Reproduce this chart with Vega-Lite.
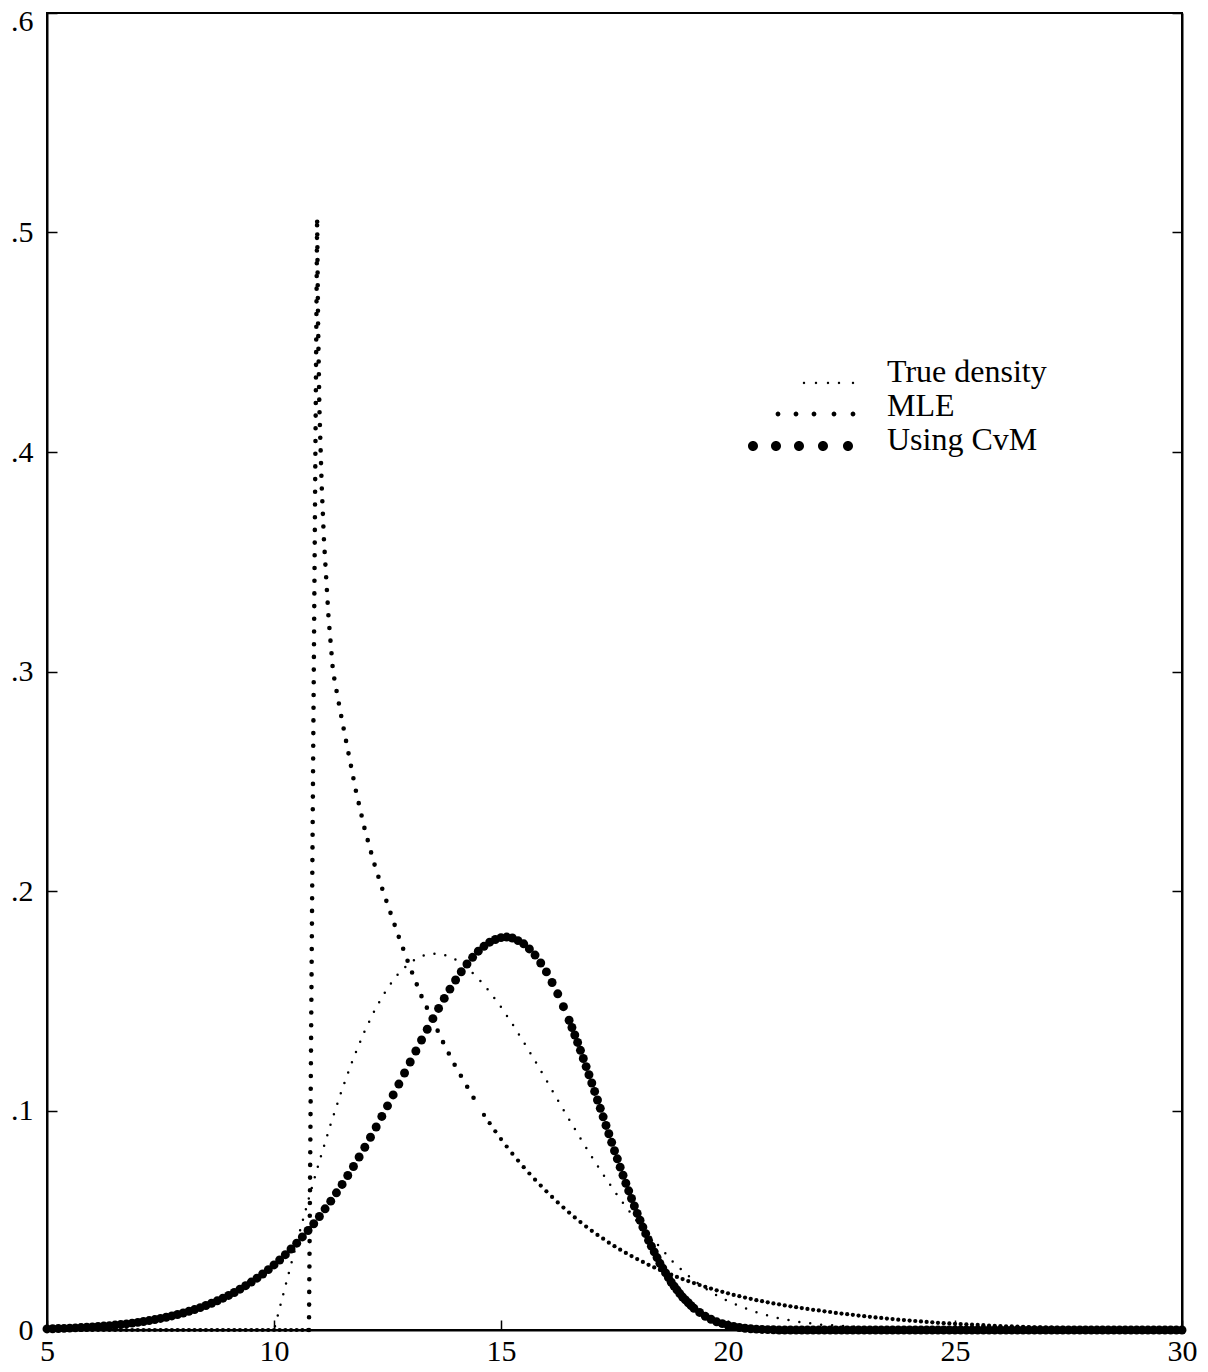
{
"$schema": "https://vega.github.io/schema/vega-lite/v6.json",
"width": 1135, "height": 1317,
"autosize": {"type": "none"},
"padding": {"left": 47, "top": 13, "right": 26, "bottom": 42},
"background": "white",
"config": {
  "view": {"stroke": "black", "strokeWidth": 2},
  "axis": {"domainColor": "black", "domainWidth": 2, "tickColor": "black", "tickWidth": 1.5, "tickSize": -10, "grid": false, "labelFont": "Liberation Serif", "labelFontSize": 30, "labelColor": "black", "title": null}
},
"datasets": {
  "truth": [
    {"x":5,"t":0},{"x":10,"t":0},{"x":10.125,"t":0.01},{"x":10.25,"t":0.01995},{"x":10.375,"t":0.02983},{"x":10.5,"t":0.0396},{"x":10.625,"t":0.04923},{"x":10.75,"t":0.05867},{"x":10.875,"t":0.06789},{"x":11,"t":0.07686},{"x":11.25,"t":0.09394},{"x":11.5,"t":0.10967},{"x":11.75,"t":0.12386},{"x":12,"t":0.13634},{"x":12.25,"t":0.147},{"x":12.5,"t":0.15576},{"x":12.75,"t":0.16257},{"x":13,"t":0.16744},{"x":13.25,"t":0.17041},{"x":13.5,"t":0.17154},{"x":13.75,"t":0.17093},{"x":14,"t":0.16873},{"x":14.25,"t":0.16508},{"x":14.5,"t":0.16015},{"x":14.75,"t":0.15412},{"x":15,"t":0.14715},{"x":15.25,"t":0.13944},{"x":15.5,"t":0.13121},{"x":15.75,"t":0.12258},{"x":16,"t":0.11373},{"x":16.25,"t":0.10481},{"x":16.5,"t":0.09595},{"x":16.75,"t":0.08728},{"x":17,"t":0.07888},{"x":17.25,"t":0.07085},{"x":17.5,"t":0.06324},{"x":17.75,"t":0.0561},{"x":18,"t":0.04947},{"x":18.25,"t":0.04337},{"x":18.5,"t":0.0378},{"x":18.75,"t":0.0318},{"x":19,"t":0.027},{"x":19.25,"t":0.0225},{"x":19.5,"t":0.019},{"x":19.75,"t":0.0158},{"x":20,"t":0.0131},{"x":20.5,"t":0.0089},{"x":21,"t":0.0059},{"x":21.5,"t":0.0039},{"x":22,"t":0.0025},{"x":22.5,"t":0.00193},{"x":23,"t":0.00121},{"x":24,"t":0.00045},{"x":25,"t":0.00011},{"x":26,"t":0},{"x":30,"t":0}
  ],
  "spike": [
    {"x":10.77,"m":0},{"x":10.95,"m":0.507},{"x":10.97,"m":0.46},{"x":11.0,"m":0.42},{"x":11.05,"m":0.385},{"x":11.1,"m":0.36},{"x":11.2,"m":0.325},{"x":11.3,"m":0.3},{"x":11.45,"m":0.283},{"x":11.6,"m":0.267},{"x":11.8,"m":0.246},{"x":12.0,"m":0.228},{"x":12.2,"m":0.213},{"x":12.4,"m":0.2},{"x":12.75,"m":0.179},{"x":13,"m":0.165},{"x":13.25,"m":0.152},{"x":13.5,"m":0.141},{"x":13.75,"m":0.13},{"x":14,"m":0.12},{"x":14.25,"m":0.111},{"x":14.5,"m":0.102}
  ],
  "grid": [
    {"x":5,"c":0.00049,"m":0},{"x":5.125,"c":0.00057,"m":0},{"x":5.25,"c":0.00065,"m":0},{"x":5.375,"c":0.00075,"m":0},{"x":5.5,"c":0.00085,"m":0},{"x":5.625,"c":0.00097,"m":0},{"x":5.75,"c":0.0011,"m":0},{"x":5.875,"c":0.00125,"m":0},
    {"x":6,"c":0.0014,"m":0},{"x":6.125,"c":0.0016,"m":0},{"x":6.25,"c":0.00178,"m":0},{"x":6.375,"c":0.002,"m":0},{"x":6.5,"c":0.00225,"m":0},{"x":6.625,"c":0.0025,"m":0},{"x":6.75,"c":0.0028,"m":0},{"x":6.875,"c":0.00313,"m":0},
    {"x":7,"c":0.00348,"m":0},{"x":7.125,"c":0.00387,"m":0},{"x":7.25,"c":0.00429,"m":0},{"x":7.375,"c":0.00476,"m":0},{"x":7.5,"c":0.00526,"m":0},{"x":7.625,"c":0.0058,"m":0},{"x":7.75,"c":0.0064,"m":0},{"x":7.875,"c":0.00705,"m":0},
    {"x":8,"c":0.00775,"m":0},{"x":8.125,"c":0.0085,"m":0},{"x":8.25,"c":0.00932,"m":0},{"x":8.375,"c":0.0102,"m":0},{"x":8.5,"c":0.01116,"m":0},{"x":8.625,"c":0.0122,"m":0},{"x":8.75,"c":0.0133,"m":0},{"x":8.875,"c":0.0145,"m":0},
    {"x":9,"c":0.01576,"m":0},{"x":9.125,"c":0.0171,"m":0},{"x":9.25,"c":0.0186,"m":0},{"x":9.375,"c":0.0202,"m":0},{"x":9.5,"c":0.02183,"m":0},{"x":9.625,"c":0.0236,"m":0},{"x":9.75,"c":0.0255,"m":0},{"x":9.875,"c":0.0275,"m":0},
    {"x":10,"c":0.02965,"m":0},{"x":10.125,"c":0.0319,"m":0},{"x":10.25,"c":0.03432,"m":0},{"x":10.375,"c":0.0369,"m":0},{"x":10.5,"c":0.03954,"m":0},{"x":10.625,"c":0.0424,"m":0},{"x":10.75,"c":0.04533,"m":0},{"x":10.875,"c":0.0484},
    {"x":11,"c":0.05172},{"x":11.125,"c":0.0552},{"x":11.25,"c":0.05871},{"x":11.375,"c":0.0625},{"x":11.5,"c":0.06631},{"x":11.625,"c":0.0704},{"x":11.75,"c":0.0745},{"x":11.875,"c":0.0788},
    {"x":12,"c":0.08325},{"x":12.125,"c":0.0878},{"x":12.25,"c":0.09248},{"x":12.375,"c":0.0973},{"x":12.5,"c":0.10211},{"x":12.625,"c":0.1071},{"x":12.75,"c":0.11204},{"x":12.875,"c":0.1171},
    {"x":13,"c":0.1221},{"x":13.125,"c":0.1271},{"x":13.25,"c":0.13212},{"x":13.375,"c":0.137},{"x":13.5,"c":0.14185},{"x":13.625,"c":0.1465},{"x":13.75,"c":0.15107},{"x":13.875,"c":0.1553},
    {"x":14,"c":0.15947},{"x":14.125,"c":0.1632},{"x":14.25,"c":0.16674},{"x":14.375,"c":0.1698},{"x":14.5,"c":0.17257},{"x":14.625,"c":0.1748,"m":0.098},{"x":14.75,"c":0.17669,"m":0.0942},{"x":14.875,"c":0.1779,"m":0.0905},
    {"x":15,"c":0.17877,"m":0.087},{"x":15.125,"c":0.179,"m":0.0836},{"x":15.25,"c":0.17858,"m":0.0803},{"x":15.375,"c":0.1774,"m":0.0772},{"x":15.5,"c":0.17595,"m":0.0742},{"x":15.625,"c":0.1736,"m":0.0713},{"x":15.75,"c":0.1708,"m":0.0685},{"x":15.875,"c":0.1672,"m":0.0658},
    {"x":16,"c":0.16315,"m":0.0632},{"x":16.125,"c":0.1583,"m":0.0606},{"x":16.25,"c":0.15317,"m":0.0581},{"x":16.375,"c":0.1473,"m":0.0558},{"x":16.5,"c":0.14112,"m":0.0535},{"x":16.5625,"c":0.1378},{"x":16.625,"c":0.1344,"m":0.0513},{"x":16.6875,"c":0.131},{"x":16.75,"c":0.12742,"m":0.0492},{"x":16.8125,"c":0.1237},{"x":16.875,"c":0.12,"m":0.0471},{"x":16.9375,"c":0.1163},
    {"x":17,"c":0.11254,"m":0.0452},{"x":17.0625,"c":0.1087},{"x":17.125,"c":0.1048,"m":0.0433},{"x":17.1875,"c":0.101},{"x":17.25,"c":0.09711,"m":0.0416},{"x":17.3125,"c":0.0932},{"x":17.375,"c":0.0894,"m":0.0398},{"x":17.4375,"c":0.0855},{"x":17.5,"c":0.08167,"m":0.0382},{"x":17.5625,"c":0.078},{"x":17.625,"c":0.0742,"m":0.0366},{"x":17.6875,"c":0.0705},{"x":17.75,"c":0.06685,"m":0.0351},{"x":17.8125,"c":0.0634},{"x":17.875,"c":0.0599,"m":0.0337},{"x":17.9375,"c":0.0565},
    {"x":18,"c":0.0531,"m":0.0323},{"x":18.0625,"c":0.05},{"x":18.125,"c":0.0469,"m":0.031},{"x":18.1875,"c":0.0439},{"x":18.25,"c":0.04084,"m":0.0297},{"x":18.3125,"c":0.0382},{"x":18.375,"c":0.0356,"m":0.0285},{"x":18.4375,"c":0.033},{"x":18.5,"c":0.03037,"m":0.0274},{"x":18.5625,"c":0.0282},{"x":18.625,"c":0.026,"m":0.0263},{"x":18.6875,"c":0.0239},{"x":18.75,"c":0.02176,"m":0.0252},{"x":18.8125,"c":0.02},{"x":18.875,"c":0.0183,"m":0.0242},{"x":18.9375,"c":0.0166},
    {"x":19,"c":0.01499,"m":0.0232},{"x":19.0625,"c":0.0137},{"x":19.125,"c":0.0124,"m":0.0223},{"x":19.1875,"c":0.0111},{"x":19.25,"c":0.00989,"m":0.0214},{"x":19.375,"c":0.008,"m":0.0205},{"x":19.5,"c":0.00623,"m":0.0197},{"x":19.625,"c":0.0049,"m":0.0189},{"x":19.75,"c":0.00374,"m":0.0181},{"x":19.875,"c":0.0029,"m":0.0174},
    {"x":20,"c":0.00213,"m":0.0167},{"x":20.125,"c":0.0016,"m":0.016},{"x":20.25,"c":0.00114,"m":0.0154},{"x":20.375,"c":0.0008,"m":0.0148},{"x":20.5,"c":0.00058,"m":0.0142},{"x":20.625,"c":0.0004,"m":0.0136},{"x":20.75,"c":0.00027,"m":0.0131},{"x":20.875,"c":0.00018,"m":0.0126},
    {"x":21,"c":0.0001,"m":0.0121},{"x":21.125,"c":0,"m":0.0117},{"x":21.25,"c":0,"m":0.0112},{"x":21.375,"c":0,"m":0.0108},{"x":21.5,"c":0,"m":0.0104},{"x":21.625,"c":0,"m":0.01},{"x":21.75,"c":0,"m":0.0096},{"x":21.875,"c":0,"m":0.0092},
    {"x":22,"c":0,"m":0.0089},{"x":22.125,"c":0,"m":0.0085},{"x":22.25,"c":0,"m":0.0082},{"x":22.375,"c":0,"m":0.0078},{"x":22.5,"c":0,"m":0.0075},{"x":22.625,"c":0,"m":0.0072},{"x":22.75,"c":0,"m":0.0069},{"x":22.875,"c":0,"m":0.0066},
    {"x":23,"c":0,"m":0.0063},{"x":23.125,"c":0,"m":0.006},{"x":23.25,"c":0,"m":0.0057},{"x":23.375,"c":0,"m":0.0055},{"x":23.5,"c":0,"m":0.0052},{"x":23.625,"c":0,"m":0.005},{"x":23.75,"c":0,"m":0.0047},{"x":23.875,"c":0,"m":0.0045},
    {"x":24,"c":0,"m":0.0043},{"x":24.125,"c":0,"m":0.0041},{"x":24.25,"c":0,"m":0.0039},{"x":24.375,"c":0,"m":0.0037},{"x":24.5,"c":0,"m":0.0035},{"x":24.625,"c":0,"m":0.0033},{"x":24.75,"c":0,"m":0.0031},{"x":24.875,"c":0,"m":0.003},
    {"x":25,"c":0,"m":0.0028},{"x":25.125,"c":0,"m":0.0027},{"x":25.25,"c":0,"m":0.0026},{"x":25.375,"c":0,"m":0.0024},{"x":25.5,"c":0,"m":0.0023},{"x":25.625,"c":0,"m":0.0022},{"x":25.75,"c":0,"m":0.002},{"x":25.875,"c":0,"m":0.0019},
    {"x":26,"c":0,"m":0.0018},{"x":26.125,"c":0,"m":0.0017},{"x":26.25,"c":0,"m":0.0016},{"x":26.375,"c":0,"m":0.0015},{"x":26.5,"c":0,"m":0.0014},{"x":26.625,"c":0,"m":0.00133},{"x":26.75,"c":0,"m":0.00125},{"x":26.875,"c":0,"m":0.00117},
    {"x":27,"c":0,"m":0.0011},{"x":27.125,"c":0,"m":0.00104},{"x":27.25,"c":0,"m":0.00098},{"x":27.375,"c":0,"m":0.00093},{"x":27.5,"c":0,"m":0.0009},{"x":27.625,"c":0,"m":0.00085},{"x":27.75,"c":0,"m":0.0008},{"x":27.875,"c":0,"m":0.00075},
    {"x":28,"c":0,"m":0.0007},{"x":28.125,"c":0,"m":0.00065},{"x":28.25,"c":0,"m":0.0006},{"x":28.375,"c":0,"m":0.00055},{"x":28.5,"c":0,"m":0.0005},{"x":28.625,"c":0,"m":0.00048},{"x":28.75,"c":0,"m":0.00045},{"x":28.875,"c":0,"m":0.00042},
    {"x":29,"c":0,"m":0.0004},{"x":29.125,"c":0,"m":0.00037},{"x":29.25,"c":0,"m":0.00035},{"x":29.375,"c":0,"m":0.00032},{"x":29.5,"c":0,"m":0.0003},{"x":29.625,"c":0,"m":0.00028},{"x":29.75,"c":0,"m":0.00025},{"x":29.875,"c":0,"m":0.00023},
    {"x":30,"c":0,"m":0.0002}
  ],
  "legend": [{"s":"True density"},{"s":"MLE"},{"s":"Using CvM"}]
},
"layer": [
  {
    "data": {"name": "truth"},
    "mark": {"type": "line", "color": "black", "strokeWidth": 2.5, "strokeDash": [0, 11], "strokeCap": "round"},
    "encoding": {
      "x": {"field": "x", "type": "quantitative", "scale": {"domain": [5, 30], "nice": false, "zero": false},
            "axis": {"values": [5, 10, 15, 20, 25, 30], "labelPadding": 16, "labelFlush": false, "labelOverlap": false}},
      "y": {"field": "t", "type": "quantitative", "scale": {"domain": [0, 0.6], "nice": false, "zero": true},
            "axis": {"orient": "left", "values": [0, 0.1, 0.2, 0.3, 0.4, 0.5, 0.6], "labelPadding": 24, "labelFlush": false, "labelOverlap": false,
                     "labelExpr": "datum.value == 0 ? '0' : replace(format(datum.value, '.1f'), '0.', '.')",
                     "labelBaseline": {"condition": {"test": "datum.value > 0.55", "value": "top"}, "value": "middle"},
                     "labelOffset": {"condition": {"test": "datum.value > 0.55", "value": -7}, "value": 0}}}
    }
  },
  {
    "data": {"name": "spike"},
    "mark": {"type": "line", "color": "black", "strokeWidth": 4.6, "strokeDash": [0, 12.7], "strokeCap": "round"},
    "encoding": {
      "x": {"field": "x", "type": "quantitative"},
      "y": {"field": "m", "type": "quantitative",
            "axis": {"orient": "right", "labels": false, "values": [0, 0.1, 0.2, 0.3, 0.4, 0.5, 0.6]}}
    }
  },
  {
    "data": {"name": "grid"},
    "mark": {"type": "point", "filled": true, "color": "black", "size": 80, "opacity": 1, "strokeWidth": 0},
    "encoding": {
      "x": {"field": "x", "type": "quantitative"},
      "y": {"field": "c", "type": "quantitative", "axis": null}
    }
  },
  {
    "data": {"name": "grid"},
    "mark": {"type": "point", "filled": true, "color": "black", "size": 18, "opacity": 1, "strokeWidth": 0},
    "encoding": {
      "x": {"field": "x", "type": "quantitative"},
      "y": {"field": "m", "type": "quantitative", "axis": null}
    }
  },
  {
    "data": {"name": "legend"},
    "mark": {"type": "point", "filled": true, "color": "black", "opacity": 0},
    "encoding": {
      "shape": {"field": "s", "type": "nominal",
        "scale": {"domain": ["True density", "MLE", "Using CvM"],
                  "range": [
                    "M0.08,1.1a0.12,0.12,0,1,0,0.24,0a0.12,0.12,0,1,0,-0.24,0ZM1.28,1.1a0.12,0.12,0,1,0,0.24,0a0.12,0.12,0,1,0,-0.24,0ZM2.48,1.1a0.12,0.12,0,1,0,0.24,0a0.12,0.12,0,1,0,-0.24,0ZM3.58,1.1a0.12,0.12,0,1,0,0.24,0a0.12,0.12,0,1,0,-0.24,0ZM4.98,1.1a0.12,0.12,0,1,0,0.24,0a0.12,0.12,0,1,0,-0.24,0Z",
                    "M-2.64,0.8a0.24,0.24,0,1,0,0.48,0a0.24,0.24,0,1,0,-0.48,0ZM-0.84,0.8a0.24,0.24,0,1,0,0.48,0a0.24,0.24,0,1,0,-0.48,0ZM0.96,0.8a0.24,0.24,0,1,0,0.48,0a0.24,0.24,0,1,0,-0.48,0ZM2.96,0.8a0.24,0.24,0,1,0,0.48,0a0.24,0.24,0,1,0,-0.48,0ZM4.86,0.8a0.24,0.24,0,1,0,0.48,0a0.24,0.24,0,1,0,-0.48,0Z",
                    "M-5.4,0.6a0.5,0.5,0,1,0,1,0a0.5,0.5,0,1,0,-1,0ZM-3.1,0.6a0.5,0.5,0,1,0,1,0a0.5,0.5,0,1,0,-1,0ZM-0.8,0.6a0.5,0.5,0,1,0,1,0a0.5,0.5,0,1,0,-1,0ZM1.6,0.6a0.5,0.5,0,1,0,1,0a0.5,0.5,0,1,0,-1,0ZM4.1,0.6a0.5,0.5,0,1,0,1,0a0.5,0.5,0,1,0,-1,0Z"
                  ]},
        "legend": {"title": null, "orient": "none", "legendX": 739, "legendY": 343, "direction": "vertical", "padding": 0,
                   "symbolSize": 400, "symbolOpacity": 1, "symbolFillColor": "black", "symbolStrokeColor": "black", "symbolStrokeWidth": 0,
                   "labelFont": "Liberation Serif", "labelFontSize": 32, "labelColor": "black", "labelOffset": 69, "rowPadding": 2, "labelLimit": 400}}
    }
  }
],
"resolve": {"axis": {"y": "independent"}}
}
